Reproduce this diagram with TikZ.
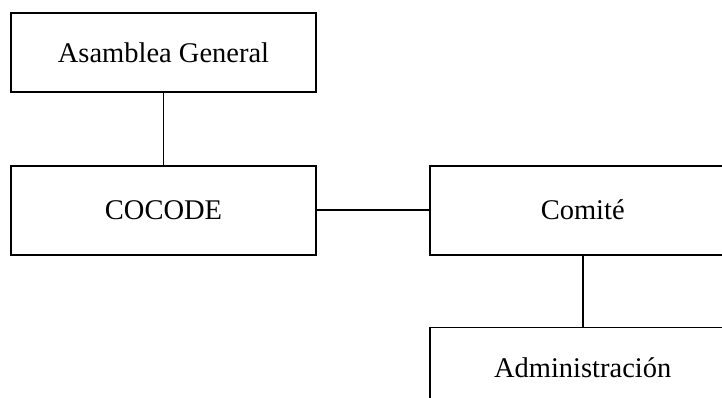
\documentclass[tikz,border=0pt]{standalone}
\usepackage{fontspec}
\setmainfont{Liberation Serif}
\usetikzlibrary{positioning}

\begin{document}
\begin{tikzpicture}[node distance=72pt, orgbox/.style={draw, line width=1.7pt, minimum width=305pt, minimum height=89pt, inner sep=0pt, font=\fontsize{28.5}{34}\selectfont}]

    % Page frame
    \useasboundingbox (0,0) rectangle (722pt,-398pt);

    % Boxes
    \node[orgbox, minimum height=79pt] (asamblea) at (163.5pt,-52.5pt) {Asamblea General};
    \node[orgbox] (cocode) [below=of asamblea] {COCODE};
    \node[orgbox, minimum width=306pt] (comite) [right=112pt of cocode] {Comit\'e};
    \node[orgbox, minimum width=306pt, minimum height=80pt] (admin) [below=71pt of comite] {Administraci\'on};

    % Lines between the boxes
    \path[draw, line width=1.7pt]
    (asamblea) edge (cocode)
    (cocode) edge (comite)
    (comite) edge (admin);

\end{tikzpicture}
\end{document}
